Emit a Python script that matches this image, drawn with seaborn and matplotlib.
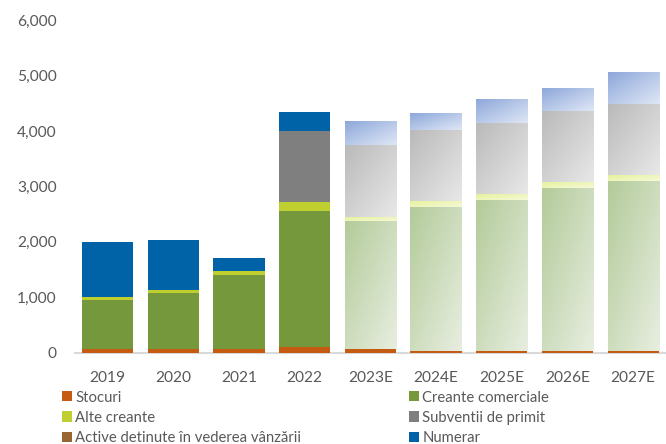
import numpy as np
import pandas as pd
import matplotlib
matplotlib.use("Agg")
import matplotlib.pyplot as plt
from matplotlib.patches import Patch
from matplotlib.colors import to_rgb
from matplotlib.ticker import FuncFormatter
import seaborn as sns

# Data (stacked, bottom to top)
years = ["2019", "2020", "2021", "2022", "2023E", "2024E", "2025E", "2026E", "2027E"]
stocuri = [70, 70, 70, 100, 60, 30, 30, 30, 30]
creante_comerciale = [885, 1011, 1330, 2459, 2313, 2595, 2721, 2938, 3064]
alte_creante = [50, 43, 77, 151, 72, 108, 108, 108, 108]
subventii = [0, 0, 0, 1285, 1297, 1280, 1280, 1279, 1279]
active_vanzare = [0, 15, 0, 0, 0, 0, 0, 0, 0]
numerar = [1000, 885, 224, 337, 415, 306, 432, 414, 577]
forecast = [False, False, False, False, True, True, True, True, True]

series_names = ["Stocuri", "Creante comerciale", "Alte creante",
                "Subventii de primit", "Active detinute în vederea vânzării", "Numerar"]
series_values = [stocuri, creante_comerciale, alte_creante, subventii, active_vanzare, numerar]
series_colors = ["#C55A11", "#76983D", "#C0CF30", "#7F7F7F", "#996633", "#0063A8"]
# light gradient (top-left, bottom-right) used for estimated years
gradient_colors = {
    "Creante comerciale": ("#B3CB9A", "#E8EEE0"),
    "Alte creante": ("#E6F29C", "#F5F9D8"),
    "Subventii de primit": ("#BABABA", "#E8E8E8"),
    "Numerar": ("#8EA8DA", "#DFE7F6"),
}

sns.set_style("white")
plt.rcParams["font.family"] = ["Lato", "DejaVu Sans"]
text_color = "#595959"

fig = plt.figure(figsize=(6.66, 4.44), dpi=100)
ax = fig.add_axes([74.6 / 666, 1 - 352.7 / 444, (666 - 74.6) / 666, (352.7 - 20) / 444])

df = pd.DataFrame({name: vals for name, vals in zip(series_names, series_values)})
df["year"] = years
cum = df[series_names].cumsum(axis=1)

bar_width = 0.78
# overlay cumulative totals, tallest layer first
for name, color in reversed(list(zip(series_names, series_colors))):
    sns.barplot(x=df["year"], y=cum[name], color=color, width=bar_width,
                order=years, ax=ax, saturation=1, linewidth=0, zorder=2)

# gradient fill for the estimated years
n = 64
u, v = np.meshgrid(np.linspace(0, 1, n), np.linspace(0, 1, n))
t = (u + (1 - v)) / 2.0
for i, yr in enumerate(years):
    if not forecast[i]:
        continue
    for name in series_names:
        if name not in gradient_colors:
            continue
        val = df.loc[i, name]
        if val <= 0:
            continue
        top = cum.loc[i, name]
        bottom = top - val
        c0 = np.array(to_rgb(gradient_colors[name][0]))
        c1 = np.array(to_rgb(gradient_colors[name][1]))
        img = c0[None, None, :] * (1 - t[..., None]) + c1[None, None, :] * t[..., None]
        ax.imshow(img, extent=(i - bar_width / 2, i + bar_width / 2, bottom, top),
                  origin="lower", aspect="auto", interpolation="bilinear", zorder=3)

ax.set_xlim(-0.5, len(years) - 0.5)
ax.set_ylim(0, 6000)
ax.set_yticks(np.arange(0, 6001, 1000))
ax.yaxis.set_major_formatter(FuncFormatter(lambda x, p: f"{int(x):,}"))
ax.set_xlabel("")
ax.set_ylabel("")
for s in ["top", "right", "left"]:
    ax.spines[s].set_visible(False)
ax.spines["bottom"].set_color("#D9D9D9")
ax.spines["bottom"].set_linewidth(1.5)
ax.spines["bottom"].set_zorder(1)
ax.tick_params(axis="y", length=0, pad=13, labelsize=11.2, labelcolor=text_color)
ax.tick_params(axis="x", length=0, pad=13.5, labelsize=11.2, labelcolor=text_color)
ax.grid(False)

# legend, two columns filled column-wise
order = [0, 2, 4, 1, 3, 5]
handles = [Patch(facecolor=series_colors[k], edgecolor="none") for k in order]
labels = [series_names[k] for k in order]
fig.legend(handles, labels, ncol=2, loc="upper left", bbox_to_anchor=(62.5 / 666, 1 - 390.5 / 444),
           frameon=False, fontsize=10.7, labelcolor=text_color, borderpad=0, borderaxespad=0,
           handlelength=0.67, handleheight=0.67, handletextpad=0.2, labelspacing=0.42,
           columnspacing=7.27)

fig.savefig("out.png", dpi=100)
